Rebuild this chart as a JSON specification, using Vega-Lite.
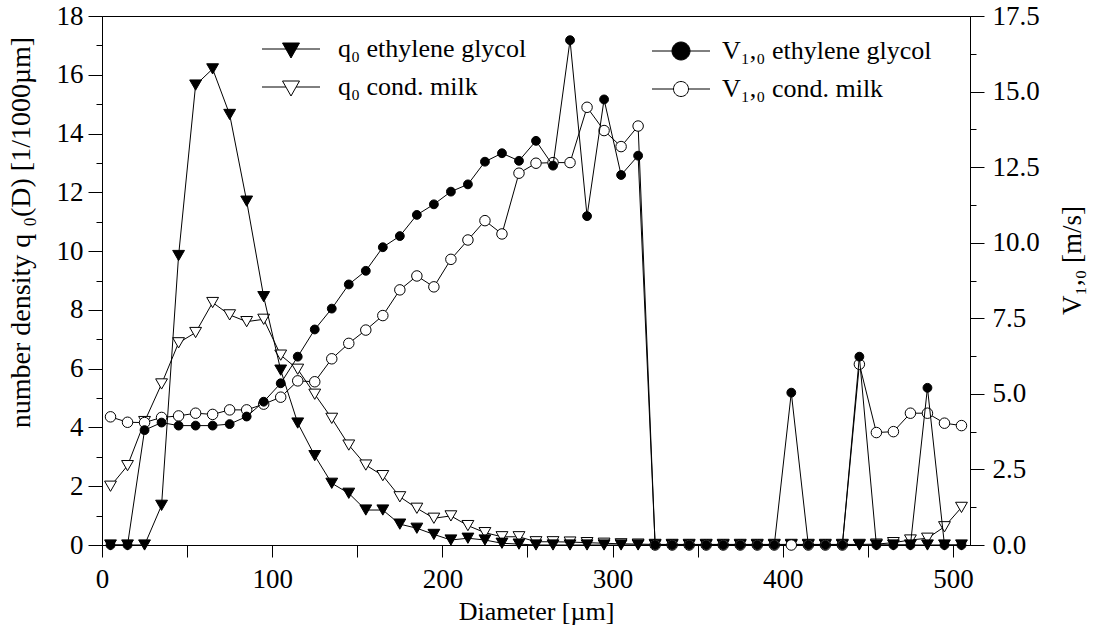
{
  "$schema": "https://vega.github.io/schema/vega-lite/v6.json",
  "width": 868,
  "height": 529,
  "autosize": {"type": "none"},
  "padding": {"left": 102, "top": 16, "right": 135, "bottom": 85},
  "background": "white",
  "config": {
    "font": "Liberation Serif",
    "view": {"stroke": "black", "strokeWidth": 1},
    "axis": {
      "domainColor": "black", "domainWidth": 1, "tickColor": "black", "tickWidth": 1,
      "labelColor": "black", "titleColor": "black",
      "labelFont": "Liberation Serif", "titleFont": "Liberation Serif",
      "labelFontSize": 27, "titleFontSize": 27, "titleFontWeight": "normal",
      "grid": false, "labelOverlap": false, "labelFlush": false, "labelBound": false
    }
  },
  "data": {"values": [
    {"d": 5, "q_eg": 0, "q_cm": 2.0, "v_eg": 0, "v_cm": 4.24},
    {"d": 15, "q_eg": 0, "q_cm": 2.7, "v_eg": 0, "v_cm": 4.06},
    {"d": 25, "q_eg": 0, "q_cm": 4.2, "v_eg": 3.8, "v_cm": 4.05},
    {"d": 35, "q_eg": 1.35, "q_cm": 5.48, "v_eg": 4.05, "v_cm": 4.22},
    {"d": 45, "q_eg": 9.85, "q_cm": 6.88, "v_eg": 3.95, "v_cm": 4.27},
    {"d": 55, "q_eg": 15.65, "q_cm": 7.23, "v_eg": 3.95, "v_cm": 4.36},
    {"d": 65, "q_eg": 16.2, "q_cm": 8.25, "v_eg": 3.95, "v_cm": 4.32},
    {"d": 75, "q_eg": 14.65, "q_cm": 7.83, "v_eg": 4.0, "v_cm": 4.47},
    {"d": 85, "q_eg": 11.7, "q_cm": 7.6, "v_eg": 4.25, "v_cm": 4.47},
    {"d": 95, "q_eg": 8.45, "q_cm": 7.68, "v_eg": 4.74, "v_cm": 4.66},
    {"d": 105, "q_eg": 5.95, "q_cm": 6.46, "v_eg": 5.35, "v_cm": 4.89},
    {"d": 115, "q_eg": 4.15, "q_cm": 5.98, "v_eg": 6.23, "v_cm": 5.43},
    {"d": 125, "q_eg": 3.04, "q_cm": 5.13, "v_eg": 7.13, "v_cm": 5.4},
    {"d": 135, "q_eg": 2.1, "q_cm": 4.31, "v_eg": 7.82, "v_cm": 6.16},
    {"d": 145, "q_eg": 1.76, "q_cm": 3.4, "v_eg": 8.62, "v_cm": 6.67},
    {"d": 155, "q_eg": 1.19, "q_cm": 2.72, "v_eg": 9.07, "v_cm": 7.11},
    {"d": 165, "q_eg": 1.19, "q_cm": 2.36, "v_eg": 9.85, "v_cm": 7.59},
    {"d": 175, "q_eg": 0.71, "q_cm": 1.64, "v_eg": 10.22, "v_cm": 8.44},
    {"d": 185, "q_eg": 0.57, "q_cm": 1.25, "v_eg": 10.92, "v_cm": 8.9},
    {"d": 195, "q_eg": 0.36, "q_cm": 0.91, "v_eg": 11.27, "v_cm": 8.54},
    {"d": 205, "q_eg": 0.17, "q_cm": 0.99, "v_eg": 11.69, "v_cm": 9.45},
    {"d": 215, "q_eg": 0.23, "q_cm": 0.66, "v_eg": 11.93, "v_cm": 10.09},
    {"d": 225, "q_eg": 0.17, "q_cm": 0.42, "v_eg": 12.68, "v_cm": 10.73},
    {"d": 235, "q_eg": 0.06, "q_cm": 0.28, "v_eg": 12.96, "v_cm": 10.29},
    {"d": 245, "q_eg": 0.03, "q_cm": 0.28, "v_eg": 12.71, "v_cm": 12.3},
    {"d": 255, "q_eg": 0, "q_cm": 0.11, "v_eg": 13.37, "v_cm": 12.63},
    {"d": 265, "q_eg": 0, "q_cm": 0.11, "v_eg": 12.55, "v_cm": 12.65},
    {"d": 275, "q_eg": 0, "q_cm": 0.1, "v_eg": 16.7, "v_cm": 12.65},
    {"d": 285, "q_eg": 0, "q_cm": 0.08, "v_eg": 10.88, "v_cm": 14.48},
    {"d": 295, "q_eg": 0, "q_cm": 0.06, "v_eg": 14.74, "v_cm": 13.71},
    {"d": 305, "q_eg": 0, "q_cm": 0.04, "v_eg": 12.24, "v_cm": 13.18},
    {"d": 315, "q_eg": 0, "q_cm": 0.03, "v_eg": 12.88, "v_cm": 13.86},
    {"d": 325, "q_eg": 0, "q_cm": 0.02, "v_eg": 0, "v_cm": 0},
    {"d": 335, "q_eg": 0, "q_cm": 0.02, "v_eg": 0, "v_cm": 0},
    {"d": 345, "q_eg": 0, "q_cm": 0.02, "v_eg": 0, "v_cm": 0},
    {"d": 355, "q_eg": 0, "q_cm": 0.02, "v_eg": 0, "v_cm": 0},
    {"d": 365, "q_eg": 0, "q_cm": 0.02, "v_eg": 0, "v_cm": 0},
    {"d": 375, "q_eg": 0, "q_cm": 0.02, "v_eg": 0, "v_cm": 0},
    {"d": 385, "q_eg": 0, "q_cm": 0.02, "v_eg": 0, "v_cm": 0},
    {"d": 395, "q_eg": 0, "q_cm": 0.02, "v_eg": 0, "v_cm": 0},
    {"d": 405, "q_eg": 0, "q_cm": 0.02, "v_eg": 5.04, "v_cm": 0},
    {"d": 415, "q_eg": 0, "q_cm": 0.02, "v_eg": 0, "v_cm": 0},
    {"d": 425, "q_eg": 0, "q_cm": 0.02, "v_eg": 0, "v_cm": 0},
    {"d": 435, "q_eg": 0, "q_cm": 0.02, "v_eg": 0, "v_cm": 0},
    {"d": 445, "q_eg": 0, "q_cm": 0.02, "v_eg": 6.23, "v_cm": 5.98},
    {"d": 455, "q_eg": 0, "q_cm": 0.03, "v_eg": 0, "v_cm": 3.72},
    {"d": 465, "q_eg": 0, "q_cm": 0.08, "v_eg": 0, "v_cm": 3.75},
    {"d": 475, "q_eg": 0, "q_cm": 0.17, "v_eg": 0, "v_cm": 4.36},
    {"d": 485, "q_eg": 0, "q_cm": 0.23, "v_eg": 5.2, "v_cm": 4.36},
    {"d": 495, "q_eg": 0, "q_cm": 0.62, "v_eg": 0, "v_cm": 4.03},
    {"d": 505, "q_eg": 0, "q_cm": 1.28, "v_eg": 0, "v_cm": 3.95}
  ]},
  "layer": [
    {
      "encoding": {
        "x": {"field": "d", "type": "quantitative",
          "scale": {"domain": [0, 510], "nice": false, "zero": false},
          "axis": {"title": "Diameter [µm]", "values": [0, 50, 100, 150, 200, 250, 300, 350, 400, 450, 500],
            "tickSize": 12, "labelExpr": "datum.value % 100 === 0 ? datum.label : ''",
            "labelBaseline": "alphabetic", "labelPadding": 30, "titleY": 74, "titleFontSize": 26, "titleBaseline": "alphabetic"}},
        "y": {"field": "v", "type": "quantitative",
          "scale": {"domain": [0, 18], "nice": false, "zero": false},
          "axis": {"title": "number density q ₀(D) [1/1000µm]",
            "values": [0, 1, 2, 3, 4, 5, 6, 7, 8, 9, 10, 11, 12, 13, 14, 15, 16, 17, 18],
            "tickSize": {"condition": {"test": "datum.value % 2 === 0", "value": 14}, "value": 6},
            "labelExpr": "datum.value % 2 === 0 ? datum.label : ''",
            "labelPadding": 5, "titleAngle": -90, "titleX": -73, "titleY": 216, "titleFontSize": 28,
            "titleAlign": "center", "titleBaseline": "alphabetic"}}
      },
      "layer": [
        {"transform": [{"fold": ["q_cm"], "as": ["s", "v"]}],
          "mark": {"type": "line", "stroke": "black", "strokeWidth": 1}},
        {"transform": [{"fold": ["q_cm"], "as": ["s", "v"]}],
          "mark": {"type": "point", "shape": "triangle-down", "filled": true, "fill": "white", "stroke": "black", "strokeWidth": 1, "size": 140, "opacity": 1}},
        {"transform": [{"fold": ["q_eg"], "as": ["s", "v"]}],
          "mark": {"type": "line", "stroke": "black", "strokeWidth": 1}},
        {"transform": [{"fold": ["q_eg"], "as": ["s", "v"]}],
          "mark": {"type": "point", "shape": "triangle-down", "filled": true, "fill": "black", "stroke": "black", "strokeWidth": 1, "size": 140, "opacity": 1}},
        {"data": {"values": [
            {"d": -50, "v": 1, "s": "q₀ ethylene glycol"},
            {"d": -50, "v": 1, "s": "q₀ cond. milk"}]},
          "mark": {"type": "point", "filled": true, "clip": true, "strokeWidth": 1, "size": 400, "opacity": 1},
          "encoding": {
            "shape": {"field": "s", "type": "nominal",
              "scale": {"domain": ["q₀ ethylene glycol", "q₀ cond. milk"],
                "range": ["M-2.9,0H2.9M-0.85,-0.6L0.85,-0.6L0,0.9Z", "M-2.9,0H-0.51M0.51,0H2.9M-0.85,-0.6L0.85,-0.6L0,0.9Z"]},
              "legend": {"title": null, "orient": "none", "legendX": 176, "legendY": 20, "direction": "vertical", "padding": 0,
                "symbolSize": 400, "symbolStrokeWidth": 1, "symbolOpacity": 1,
                "labelFont": "Liberation Serif", "labelFontSize": 26, "labelColor": "black", "labelOffset": 34,
                "rowPadding": 12, "labelLimit": 500, "labelBaseline": "middle"}},
            "fill": {"field": "s", "type": "nominal",
              "scale": {"domain": ["q₀ ethylene glycol", "q₀ cond. milk"], "range": ["black", "white"]},
              "legend": {"title": null, "orient": "none", "legendX": 176, "legendY": 20, "direction": "vertical", "padding": 0,
                "symbolSize": 400, "symbolStrokeWidth": 1, "symbolOpacity": 1,
                "labelFont": "Liberation Serif", "labelFontSize": 26, "labelColor": "black", "labelOffset": 34,
                "rowPadding": 12, "labelLimit": 500, "labelBaseline": "middle"}},
            "stroke": {"field": "s", "type": "nominal",
              "scale": {"domain": ["q₀ ethylene glycol", "q₀ cond. milk"], "range": ["black", "black"]},
              "legend": {"title": null, "orient": "none", "legendX": 176, "legendY": 20, "direction": "vertical", "padding": 0,
                "symbolSize": 400, "symbolStrokeWidth": 1, "symbolOpacity": 1,
                "labelFont": "Liberation Serif", "labelFontSize": 26, "labelColor": "black", "labelOffset": 34,
                "rowPadding": 12, "labelLimit": 500, "labelBaseline": "middle"}}
          }}
      ]
    },
    {
      "encoding": {
        "x": {"field": "d", "type": "quantitative",
          "scale": {"domain": [0, 510], "nice": false, "zero": false},
          "axis": {"title": "Diameter [µm]", "values": [0, 50, 100, 150, 200, 250, 300, 350, 400, 450, 500],
            "tickSize": 12, "labelExpr": "datum.value % 100 === 0 ? datum.label : ''",
            "labelBaseline": "alphabetic", "labelPadding": 30, "titleY": 74, "titleFontSize": 26, "titleBaseline": "alphabetic"}},
        "y": {"field": "v", "type": "quantitative",
          "scale": {"domain": [0, 17.5], "nice": false, "zero": false},
          "axis": {"orient": "right", "title": "V₁,₀ [m/s]",
            "values": [0, 1.25, 2.5, 3.75, 5, 6.25, 7.5, 8.75, 10, 11.25, 12.5, 13.75, 15, 16.25, 17.5],
            "tickSize": {"condition": {"test": "datum.value % 2.5 === 0", "value": 14}, "value": 6},
            "labelExpr": "datum.value % 2.5 === 0 ? format(datum.value, '.1f') : ''",
            "labelPadding": 8, "titleAngle": -90, "titleX": 110, "titleY": 244,
            "titleAlign": "center", "titleBaseline": "alphabetic"}}
      },
      "layer": [
        {"transform": [{"fold": ["v_cm"], "as": ["s", "v"]}],
          "mark": {"type": "line", "stroke": "black", "strokeWidth": 1}},
        {"transform": [{"fold": ["v_cm"], "as": ["s", "v"]}],
          "mark": {"type": "point", "shape": "circle", "filled": true, "fill": "white", "stroke": "black", "strokeWidth": 1, "size": 110, "opacity": 1}},
        {"transform": [{"fold": ["v_eg"], "as": ["s", "v"]}],
          "mark": {"type": "line", "stroke": "black", "strokeWidth": 1}},
        {"transform": [{"fold": ["v_eg"], "as": ["s", "v"]}],
          "mark": {"type": "point", "shape": "circle", "filled": true, "fill": "black", "stroke": "black", "strokeWidth": 1, "size": 78, "opacity": 1}},
        {"data": {"values": [
            {"d": -50, "v": 1, "s": "V₁,₀ ethylene glycol"},
            {"d": -50, "v": 1, "s": "V₁,₀ cond. milk"}]},
          "mark": {"type": "point", "filled": true, "clip": true, "strokeWidth": 1, "size": 400, "opacity": 1},
          "encoding": {
            "shape": {"field": "s", "type": "nominal",
              "scale": {"domain": ["V₁,₀ ethylene glycol", "V₁,₀ cond. milk"],
                "range": ["M-2.9,0H2.9M0.9,0A0.9,0.9,0,1,1,-0.9,0A0.9,0.9,0,1,1,0.9,0Z", "M-2.9,0H-0.75M0.75,0H2.9M0.75,0A0.75,0.75,0,1,1,-0.75,0A0.75,0.75,0,1,1,0.75,0Z"]},
              "legend": {"title": null, "orient": "none", "legendX": 566, "legendY": 22, "direction": "vertical", "padding": 0,
                "symbolSize": 400, "symbolStrokeWidth": 1, "symbolOpacity": 1,
                "labelFont": "Liberation Serif", "labelFontSize": 26, "labelColor": "black", "labelOffset": 28,
                "rowPadding": 12, "labelLimit": 500, "labelBaseline": "middle"}},
            "fill": {"field": "s", "type": "nominal",
              "scale": {"domain": ["V₁,₀ ethylene glycol", "V₁,₀ cond. milk"], "range": ["black", "white"]},
              "legend": {"title": null, "orient": "none", "legendX": 566, "legendY": 22, "direction": "vertical", "padding": 0,
                "symbolSize": 400, "symbolStrokeWidth": 1, "symbolOpacity": 1,
                "labelFont": "Liberation Serif", "labelFontSize": 26, "labelColor": "black", "labelOffset": 28,
                "rowPadding": 12, "labelLimit": 500, "labelBaseline": "middle"}},
            "stroke": {"field": "s", "type": "nominal",
              "scale": {"domain": ["V₁,₀ ethylene glycol", "V₁,₀ cond. milk"], "range": ["black", "black"]},
              "legend": {"title": null, "orient": "none", "legendX": 566, "legendY": 22, "direction": "vertical", "padding": 0,
                "symbolSize": 400, "symbolStrokeWidth": 1, "symbolOpacity": 1,
                "labelFont": "Liberation Serif", "labelFontSize": 26, "labelColor": "black", "labelOffset": 28,
                "rowPadding": 12, "labelLimit": 500, "labelBaseline": "middle"}}
          }}
      ]
    }
  ],
  "resolve": {"scale": {"y": "independent", "shape": "independent", "fill": "independent", "stroke": "independent"}}
}
